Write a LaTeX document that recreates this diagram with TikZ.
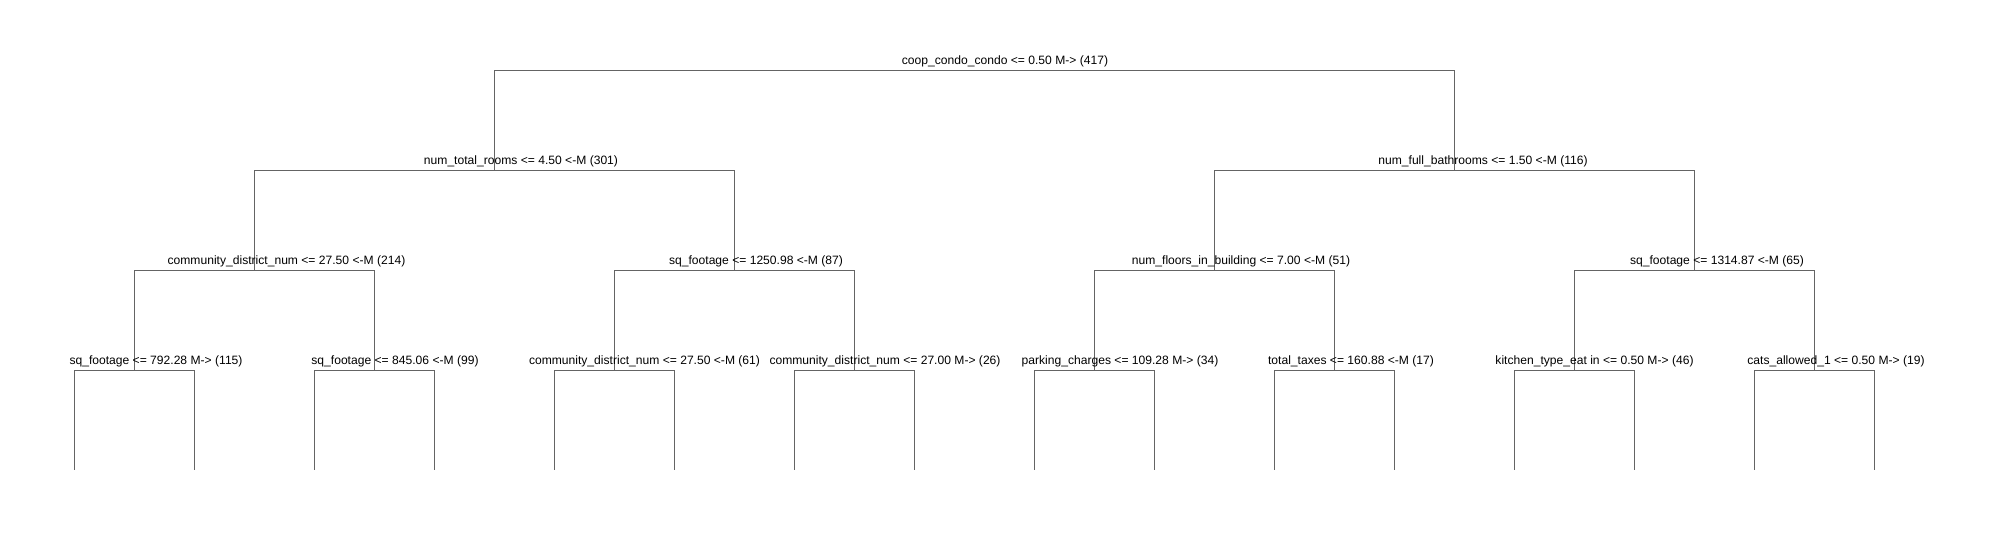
\documentclass[tikz,border=0pt]{standalone}
\usepackage{fontspec}
\setmainfont{Liberation Sans}
\definecolor{treegray}{RGB}{100,100,100}
\begin{document}
\begin{tikzpicture}[x=1pt,y=-1pt,
  edge/.style={draw=treegray, line width=1pt},
  lbl/.style={anchor=base, inner sep=0pt, font=\fontsize{12.1}{14}\selectfont}]
\fill[white] (0,0) rectangle (1994,540);
\useasboundingbox (0,0) rectangle (1994,540);
% split points
\coordinate (r) at (974.38,70.3);
\coordinate (a) at (494.5,170.3);
\coordinate (b) at (1454.26,170.3);
\coordinate (aa) at (254.56,270.3);
\coordinate (ab) at (734.44,270.3);
\coordinate (ba) at (1214.32,270.3);
\coordinate (bb) at (1694.2,270.3);
\coordinate (aaa) at (134.59,370.3);
\coordinate (aab) at (374.53,370.3);
\coordinate (aba) at (614.47,370.3);
\coordinate (abb) at (854.41,370.3);
\coordinate (baa) at (1094.35,370.3);
\coordinate (bab) at (1334.29,370.3);
\coordinate (bba) at (1574.23,370.3);
\coordinate (bbb) at (1814.17,370.3);
% leaves
\coordinate (l0) at (74.6,470.3);
\coordinate (l1) at (194.57,470.3);
\coordinate (l2) at (314.54,470.3);
\coordinate (l3) at (434.51,470.3);
\coordinate (l4) at (554.48,470.3);
\coordinate (l5) at (674.45,470.3);
\coordinate (l6) at (794.42,470.3);
\coordinate (l7) at (914.39,470.3);
\coordinate (l8) at (1034.36,470.3);
\coordinate (l9) at (1154.33,470.3);
\coordinate (l10) at (1274.3,470.3);
\coordinate (l11) at (1394.27,470.3);
\coordinate (l12) at (1514.24,470.3);
\coordinate (l13) at (1634.21,470.3);
\coordinate (l14) at (1754.18,470.3);
\coordinate (l15) at (1874.15,470.3);
% connectors
\draw[edge] (r) -| (a);
\draw[edge] (r) -| (b);
\draw[edge] (a) -| (aa);
\draw[edge] (a) -| (ab);
\draw[edge] (b) -| (ba);
\draw[edge] (b) -| (bb);
\draw[edge] (aa) -| (aaa);
\draw[edge] (aa) -| (aab);
\draw[edge] (ab) -| (aba);
\draw[edge] (ab) -| (abb);
\draw[edge] (ba) -| (baa);
\draw[edge] (ba) -| (bab);
\draw[edge] (bb) -| (bba);
\draw[edge] (bb) -| (bbb);
\draw[edge] (aaa) -| (l0);
\draw[edge] (aaa) -| (l1);
\draw[edge] (aab) -| (l2);
\draw[edge] (aab) -| (l3);
\draw[edge] (aba) -| (l4);
\draw[edge] (aba) -| (l5);
\draw[edge] (abb) -| (l6);
\draw[edge] (abb) -| (l7);
\draw[edge] (baa) -| (l8);
\draw[edge] (baa) -| (l9);
\draw[edge] (bab) -| (l10);
\draw[edge] (bab) -| (l11);
\draw[edge] (bba) -| (l12);
\draw[edge] (bba) -| (l13);
\draw[edge] (bbb) -| (l14);
\draw[edge] (bbb) -| (l15);
% labels
\node[lbl] (tr) at (1005,64.3) {coop\_condo\_condo <= 0.50 M-> (417)};
\node[lbl] (ta) at (521,164.3) {num\_total\_rooms <= 4.50 <-M (301)};
\node[lbl] (tb) at (1483,164.3) {num\_full\_bathrooms <= 1.50 <-M (116)};
\node[lbl] (taa) at (286.5,264.3) {community\_district\_num <= 27.50 <-M (214)};
\node[lbl] (tab) at (756,264.3) {sq\_footage <= 1250.98 <-M (87)};
\node[lbl] (tba) at (1241,264.3) {num\_floors\_in\_building <= 7.00 <-M (51)};
\node[lbl] (tbb) at (1717,264.3) {sq\_footage <= 1314.87 <-M (65)};
\node[lbl] (taaa) at (156,364.3) {sq\_footage <= 792.28 M-> (115)};
\node[lbl] (taab) at (395,364.3) {sq\_footage <= 845.06 <-M (99)};
\node[lbl] (taba) at (644.5,364.3) {community\_district\_num <= 27.50 <-M (61)};
\node[lbl] (tabb) at (885,364.3) {community\_district\_num <= 27.00 M-> (26)};
\node[lbl] (tbaa) at (1120,364.3) {parking\_charges <= 109.28 M-> (34)};
\node[lbl] (tbab) at (1351,364.3) {total\_taxes <= 160.88 <-M (17)};
\node[lbl] (tbba) at (1594.5,364.3) {kitchen\_type\_eat in <= 0.50 M-> (46)};
\node[lbl] (tbbb) at (1836,364.3) {cats\_allowed\_1 <= 0.50 M-> (19)};
\end{tikzpicture}
\end{document}
